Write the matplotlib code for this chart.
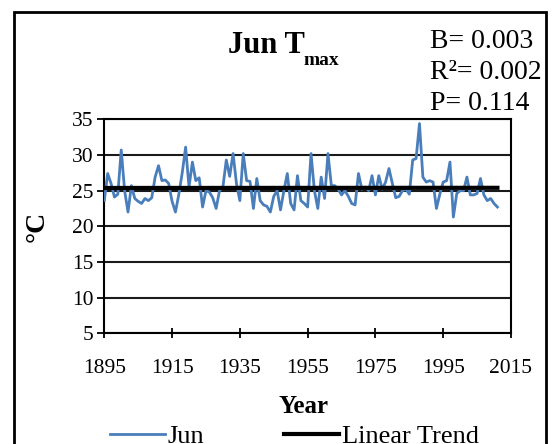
import numpy as np
import matplotlib
matplotlib.use("Agg")
import matplotlib.pyplot as plt
from matplotlib.patches import Rectangle

# June Tmax, 1895-2011
years = list(range(1895, 2012))
jun = [23.6, 27.4, 26.0, 24.1, 24.5, 30.7, 25.0, 22.0, 25.7, 23.9,
       23.5, 23.2, 23.9, 23.6, 24.0, 26.9, 28.5, 26.4, 26.5, 26.0,
       23.5, 22.0, 24.5, 27.5, 31.1, 25.5, 29.0, 26.4, 26.8, 22.7,
       25.0, 24.8, 24.0, 22.5, 25.0, 25.5, 29.3, 27.0, 30.2, 26.0,
       23.6, 30.2, 26.4, 26.3, 22.5, 26.7, 23.6, 23.0, 22.8, 22.0,
       24.2, 25.0, 22.3, 25.0, 27.4, 23.2, 22.3, 27.1, 23.6, 23.2,
       22.7, 30.2, 25.0, 22.5, 26.9, 23.9, 30.2, 25.7, 25.7, 25.2,
       24.4, 25.0, 24.2, 23.2, 23.0, 27.4, 25.2, 25.5, 25.0, 27.1,
       24.4, 27.1, 25.2, 26.2, 28.1, 26.0, 24.0, 24.2, 25.0, 25.2,
       24.5, 29.3, 29.5, 34.4, 26.9, 26.2, 26.4, 26.2, 22.5, 24.5,
       26.2, 26.4, 29.0, 21.3, 24.6, 25.0, 25.0, 26.9, 24.4, 24.4,
       24.6, 26.7, 24.4, 23.6, 23.9, 23.2, 22.7]
xticks = [1895, 1915, 1935, 1955, 1975, 1995, 2015]
yticks = [5, 10, 15, 20, 25, 30, 35]
stats = ["B= 0.003", "R\u00b2= 0.002", "P= 0.114"]

plt.rcParams["font.family"] = ["Liberation Serif", "DejaVu Serif"]

fig = plt.figure(figsize=(5.55, 4.44), dpi=100)
ax = fig.add_axes([0.1879, 0.2493, 0.7328, 0.482])

ax.plot(years, jun, color="#4a7ebb", lw=2.0, label="Jun", zorder=3)

coef = np.polyfit(years, jun, 1)
trend = np.polyval(coef, [years[0], years[-1]])
ax.plot([years[0], years[-1]], trend, color="black", lw=3, label="Linear Trend", zorder=4)

ax.set_xlim(1895, 2015)
ax.set_ylim(5, 35)
ax.set_xticks(xticks)
ax.set_yticks(yticks)
ax.tick_params(axis="x", direction="inout", length=7, width=1.3, pad=15, labelsize=15.5)
ax.tick_params(axis="y", direction="out", length=5, width=1.3, pad=3, labelsize=15.5)
ax.grid(axis="y", color="#1a1a1a", lw=1.5)
for s in ax.spines.values():
    s.set_linewidth(1.5)
    s.set_color("black")

ax.set_xlabel("Year", fontsize=18, fontweight="bold")
ax.xaxis.set_label_coords(0.49, -0.29)
ax.set_ylabel("\u00b0C", fontsize=20, fontweight="bold")
ax.yaxis.set_label_coords(-0.135, 0.5)

# title with subscript
fig.text(305 / 555, 1 - 53 / 444, "Jun T", fontsize=22, fontweight="bold",
         ha="right", va="baseline")
fig.text(304 / 555, 1 - 65 / 444, "max", fontsize=14, fontweight="bold",
         ha="left", va="baseline")
for i, s in enumerate(stats):
    fig.text(0.775, 0.892 - i * 0.07, s, fontsize=20, ha="left", va="baseline")

fig.legend(loc="center", bbox_to_anchor=(0.53, 0.018), ncol=2, frameon=False,
           fontsize=19, handlelength=2.1, handletextpad=0.1, columnspacing=3.0)

fig.patches.append(Rectangle((14 / 555, -0.05), 532 / 555, 1 - 12.5 / 444 + 0.05,
                             transform=fig.transFigure, fill=False, ec="black",
                             lw=2, clip_on=False))

fig.savefig("out.png", dpi=100)
